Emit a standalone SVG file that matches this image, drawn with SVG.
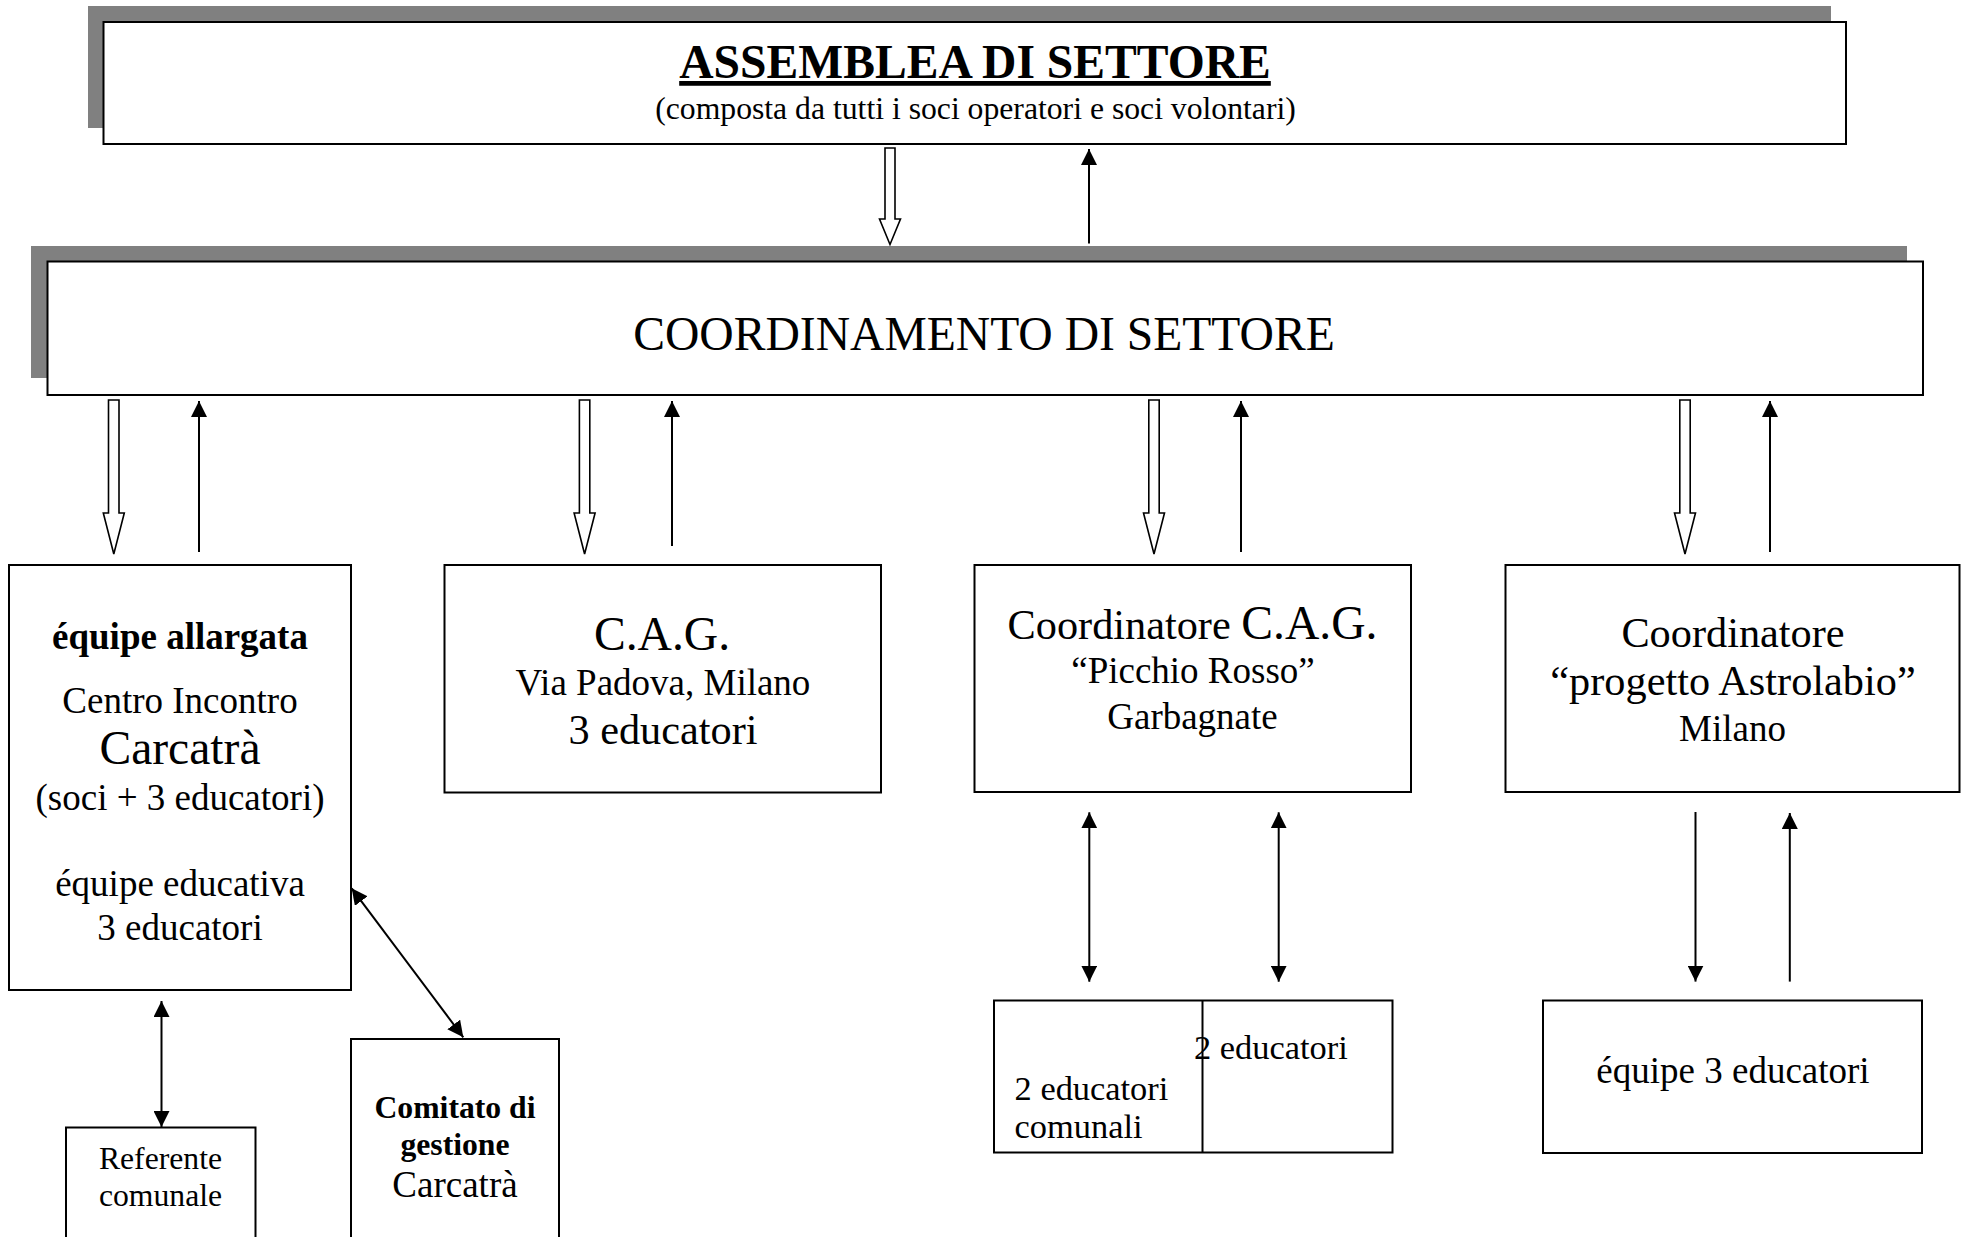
<svg xmlns="http://www.w3.org/2000/svg" width="1963" height="1237" viewBox="0 0 1963 1237">
<style>
  text { font-family: "Liberation Serif", "Times New Roman", serif; fill: #000; }
  .c { text-anchor: middle; }
  .b { font-weight: bold; }
  .box { fill: #fff; stroke: #000; stroke-width: 2; }
  .shadow { fill: #808080; }
  .ln { stroke: #000; stroke-width: 2; fill: none; }
  .hollow { fill: #fff; stroke: #000; stroke-width: 1.6; stroke-linejoin: miter; }
  .s12 { font-size: 31.7px; }
  .s13 { font-size: 34.4px; }
  .s14 { font-size: 37px; }
  .s16 { font-size: 42.3px; }
  .s18 { font-size: 47.6px; }
</style>
<defs>
  <marker id="ah" markerUnits="userSpaceOnUse" markerWidth="16" markerHeight="16" viewBox="0 0 16 16" refX="16" refY="8" orient="auto-start-reverse">
    <path d="M0,0 L16,8 L0,16 z" fill="#000"/>
  </marker>
</defs>
<rect x="0" y="0" width="1963" height="1237" fill="#fff"/>

<g id="assemblea">
  <rect class="shadow" x="88" y="6" width="1743" height="122"/>
  <rect class="box" x="103.5" y="22" width="1742.5" height="122"/>
  <text class="c b s18" x="975" y="78" text-decoration="underline">ASSEMBLEA DI SETTORE</text>
  <text class="c s12" x="975.5" y="119">(composta da tutti i soci operatori e soci volontari)</text>
</g>

<g id="coordinamento">
  <rect class="shadow" x="31" y="246" width="1876" height="132"/>
  <rect class="box" x="47.5" y="261.5" width="1875.5" height="133.5"/>
  <text class="c s18" x="984" y="349.5">COORDINAMENTO DI SETTORE</text>
</g>

<g id="equipe-allargata">
  <rect class="box" x="9" y="565" width="342" height="425"/>
  <text class="c b s14" x="180" y="648.5">équipe allargata</text>
  <text class="c s14" x="180" y="712.5">Centro Incontro</text>
  <text class="c s18" x="180" y="764">Carcatrà</text>
  <text class="c s14" x="180" y="810">(soci + 3 educatori)</text>
  <text class="c s14" x="180" y="895.5">équipe educativa</text>
  <text class="c s14" x="180" y="940">3 educatori</text>
</g>

<g id="cag-padova">
  <rect class="box" x="444.5" y="565" width="436.5" height="227.5"/>
  <text class="c s18" x="662" y="649.5">C.A.G.</text>
  <text class="c s14" x="663" y="694.5">Via Padova, Milano</text>
  <text class="c s16" x="663" y="744">3 educatori</text>
</g>

<g id="cag-picchio">
  <rect class="box" x="974.5" y="565" width="436.5" height="227"/>
  <text class="c" x="1192.5" y="638.5"><tspan class="s16">Coordinatore </tspan><tspan class="s18">C.A.G.</tspan></text>
  <text class="c s14" x="1193" y="683">“Picchio Rosso”</text>
  <text class="c s14" x="1192.5" y="729">Garbagnate</text>
</g>

<g id="astrolabio">
  <rect class="box" x="1505.5" y="565" width="454" height="227"/>
  <text class="c s16" x="1733" y="647">Coordinatore</text>
  <text class="c s16" x="1733" y="695">“progetto Astrolabio”</text>
  <text class="c s14" x="1732.5" y="740.5">Milano</text>
</g>

<g id="referente">
  <rect class="box" x="66" y="1127.5" width="189.5" height="120"/>
  <text class="c s12" x="160.5" y="1169">Referente</text>
  <text class="c s12" x="160.5" y="1206">comunale</text>
</g>

<g id="comitato">
  <rect class="box" x="351" y="1039" width="208" height="210"/>
  <text class="c b s12" x="455" y="1117.5">Comitato di</text>
  <text class="c b s12" x="455" y="1155">gestione</text>
  <text class="c s14" x="455" y="1196.5">Carcatrà</text>
</g>

<g id="educatori-garbagnate">
  <rect class="box" x="994" y="1000.5" width="398.5" height="152"/>
  <line class="ln" x1="1202.5" y1="1000.5" x2="1202.5" y2="1152.5"/>
  <text class="s13" x="1014.6" y="1099.5">2 educatori</text>
  <text class="s13" x="1014.6" y="1138">comunali</text>
  <text class="s13" x="1194" y="1059">2 educatori</text>
</g>

<g id="equipe-astrolabio">
  <rect class="box" x="1543" y="1000.5" width="379" height="152.5"/>
  <text class="c s14" x="1733" y="1082.5">équipe 3 educatori</text>
</g>

<g id="connectors">
  <!-- hollow downward arrows -->
  <polygon class="hollow" points="885,148 895,148 895,219 900.5,219 890,244.5 879.5,219 885,219"/>
  <polygon class="hollow" points="108.5,400 119,400 119,513 124.3,513 113.8,554 103.3,513 108.5,513"/>
  <polygon class="hollow" points="579.4,400 589.8,400 589.8,513 595.1,513 584.6,554 574.1,513 579.4,513"/>
  <polygon class="hollow" points="1148.8,400 1159.2,400 1159.2,513 1164.5,513 1154,554 1143.5,513 1148.8,513"/>
  <polygon class="hollow" points="1679.8,400 1690.2,400 1690.2,513 1695.5,513 1685,554 1674.5,513 1679.8,513"/>
  <!-- solid upward arrows -->
  <line class="ln" x1="1089" y1="243.5" x2="1089" y2="149" marker-end="url(#ah)"/>
  <line class="ln" x1="199" y1="552" x2="199" y2="401" marker-end="url(#ah)"/>
  <line class="ln" x1="672" y1="546" x2="672" y2="401" marker-end="url(#ah)"/>
  <line class="ln" x1="1241" y1="552" x2="1241" y2="401" marker-end="url(#ah)"/>
  <line class="ln" x1="1770" y1="552" x2="1770" y2="401" marker-end="url(#ah)"/>
  <!-- double arrows -->
  <line class="ln" x1="161.5" y1="1001" x2="161.5" y2="1127" marker-start="url(#ah)" marker-end="url(#ah)"/>
  <line class="ln" x1="351.7" y1="888.3" x2="463.3" y2="1037.3" marker-start="url(#ah)" marker-end="url(#ah)"/>
  <line class="ln" x1="1089.3" y1="812.3" x2="1089.3" y2="981.7" marker-start="url(#ah)" marker-end="url(#ah)"/>
  <line class="ln" x1="1278.7" y1="812.3" x2="1278.7" y2="981.7" marker-start="url(#ah)" marker-end="url(#ah)"/>
  <!-- astrolabio arrows -->
  <line class="ln" x1="1695.5" y1="812" x2="1695.5" y2="981.6" marker-end="url(#ah)"/>
  <line class="ln" x1="1789.8" y1="981.6" x2="1789.8" y2="813" marker-end="url(#ah)"/>
</g>
</svg>
